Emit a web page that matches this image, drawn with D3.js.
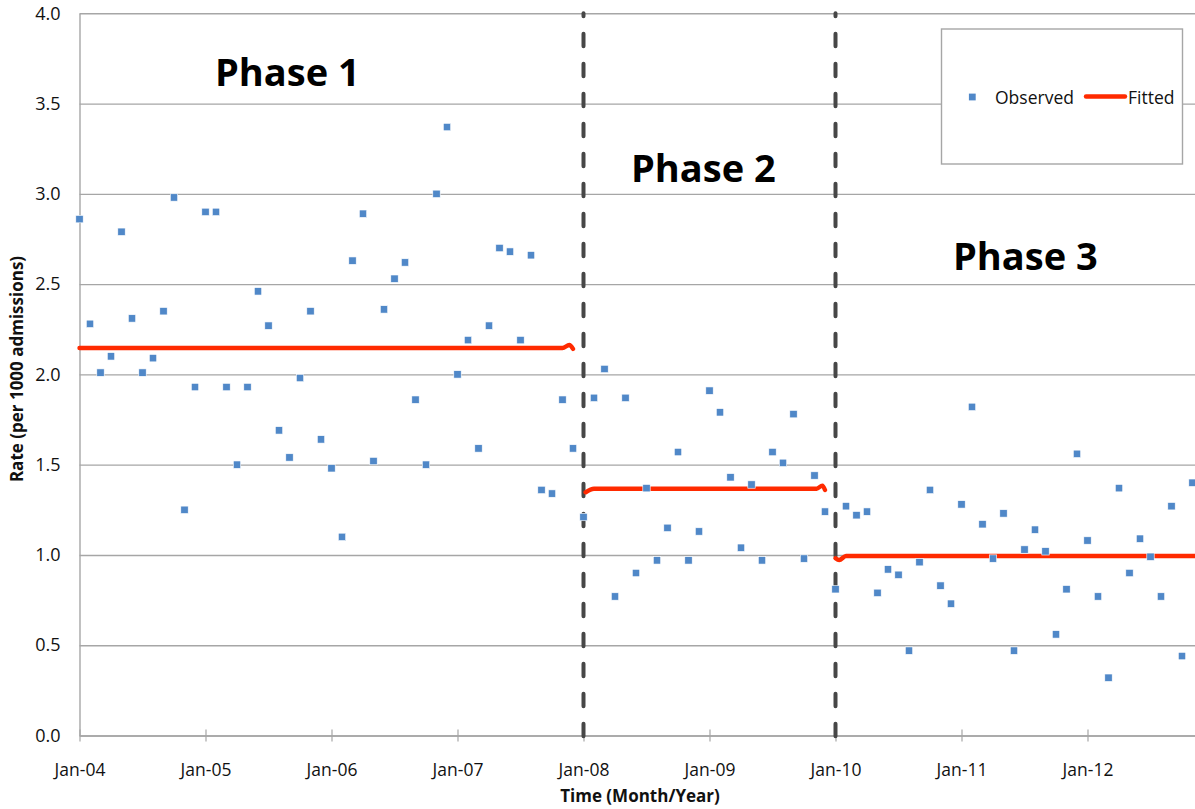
<!DOCTYPE html>
<html>
<head>
<meta charset="utf-8">
<script src="https://cdn.jsdelivr.net/npm/d3@7"></script>
<style>
  html, body { margin: 0; padding: 0; overflow: hidden; background: #fff; }
  svg { display: block; font-family: "Open Sans", "Noto Sans", sans-serif; }
</style>
</head>
<body>
<svg id="chart" width="1195" height="809"></svg>
<script>
// ---------- data ----------
// month index 0 = Jan-04
const observed = [
  2.86, 2.28, 2.01, 2.10, 2.79, 2.31, 2.01, 2.09, 2.35, 2.98, 1.25, 1.93,
  2.90, 2.90, 1.93, 1.50, 1.93, 2.46, 2.27, 1.69, 1.54, 1.98, 2.35, 1.64,
  1.48, 1.10, 2.63, 2.89, 1.52, 2.36, 2.53, 2.62, 1.86, 1.50, 3.00, 3.37,
  2.00, 2.19, 1.59, 2.27, 2.70, 2.68, 2.19, 2.66, 1.36, 1.34, 1.86, 1.59,
  1.21, 1.87, 2.03, 0.77, 1.87, 0.90, 1.37, 0.97, 1.15, 1.57, 0.97, 1.13,
  1.91, 1.79, 1.43, 1.04, 1.39, 0.97, 1.57, 1.51, 1.78, 0.98, 1.44, 1.24,
  0.81, 1.27, 1.22, 1.24, 0.79, 0.92, 0.89, 0.47, 0.96, 1.36, 0.83, 0.73,
  1.28, 1.82, 1.17, 0.98, 1.23, 0.47, 1.03, 1.14, 1.02, 0.56, 0.81, 1.56,
  1.08, 0.77, 0.32, 1.37, 0.90, 1.09, 0.99, 0.77, 1.27, 0.44, 1.40
];
// fitted segments: [month, rate]
const fittedPhase1 = [[0, 2.146], [46, 2.146], [46.65, 2.163], [47, 2.141]];
const fittedPhase2 = [[48.2, 1.347], [49, 1.367], [70.2, 1.367], [70.75, 1.384], [71, 1.360]];
const fittedPhase3 = [[72, 0.982], [72.35, 0.972], [73, 0.994], [108, 0.994]];
const phaseBreaks = [48, 72];
const phaseNames = ["Phase 1", "Phase 2", "Phase 3"];
const xTickMonths = [0, 12, 24, 36, 48, 60, 72, 84, 96];
const xTickLabels = ["Jan-04", "Jan-05", "Jan-06", "Jan-07", "Jan-08", "Jan-09", "Jan-10", "Jan-11", "Jan-12"];
const yTicks = [0, 0.5, 1.0, 1.5, 2.0, 2.5, 3.0, 3.5, 4.0];
const legendLabels = ["Observed", "Fitted"];

// ---------- layout ----------
const svg = d3.select("#chart");
const x0 = 79.5, pxPerMonth = 10.5;
const x = d3.scaleLinear().domain([0, 108]).range([x0, x0 + 108 * pxPerMonth]);
const y = d3.scaleLinear().domain([0, 4]).range([735.5, 13.3]);
const gridColor = "#a6a6a6";
const blue = "#5088c8";
const red = "#ff2a00";

// y axis with gridlines
const yAxis = svg.append("g")
  .attr("transform", `translate(${x0},0)`)
  .call(d3.axisLeft(y).tickValues(yTicks).tickFormat(d3.format(".1f"))
    .tickSize(-(x.range()[1] - x0)).tickSizeOuter(0).tickPadding(19));
yAxis.select(".domain").attr("stroke", gridColor).attr("stroke-width", 1.4);
yAxis.selectAll(".tick line").attr("stroke", gridColor).attr("stroke-width", 1.4);
yAxis.selectAll(".tick text").attr("fill", "#111").style("font-size", "18px")
  .style("font-family", "'Open Sans', sans-serif");

// x axis
const xAxis = svg.append("g")
  .attr("transform", `translate(0,${y(0)})`)
  .call(d3.axisBottom(x).tickValues(xTickMonths)
    .tickFormat((d, i) => xTickLabels[i]).tickSize(6).tickSizeOuter(0));
xAxis.select(".domain").attr("stroke", gridColor).attr("stroke-width", 1.4);
xAxis.selectAll(".tick line").attr("stroke", gridColor).attr("stroke-width", 1.2).attr("y1", -6).attr("y2", 6);
xAxis.selectAll(".tick text").attr("fill", "#111").attr("y", 40.5).attr("dy", null)
  .style("font-size", "17.5px").style("font-family", "'Open Sans', sans-serif");

// phase break dashed lines
svg.append("g").selectAll("line").data(phaseBreaks).join("line")
  .attr("x1", d => x(d)).attr("x2", d => x(d))
  .attr("y1", y(0) + 0.8).attr("y2", y(4))
  .attr("stroke", "#474747").attr("stroke-width", 4)
  .attr("stroke-linecap", "round").attr("stroke-dasharray", "12.6,17.4");

// fitted lines
const line = d3.line().x(d => x(d[0])).y(d => y(d[1])).curve(d3.curveMonotoneX);
svg.append("g").selectAll("path").data([fittedPhase1, fittedPhase2, fittedPhase3]).join("path")
  .attr("d", line).attr("fill", "none").attr("stroke", red)
  .attr("stroke-width", 4.4).attr("stroke-linecap", "round").attr("stroke-linejoin", "round");

// observed points
const ms = 7.4;
svg.append("g").selectAll("rect").data(observed).join("rect")
  .attr("x", (d, i) => x(i) - ms / 2).attr("y", d => y(d) - ms / 2)
  .attr("width", ms).attr("height", ms)
  .attr("fill", blue).attr("stroke", "#ffffff").attr("stroke-width", 0.6);

// phase labels
const phasePos = [[215, 86], [631, 182], [953, 270]];
svg.append("g").selectAll("text").data(phaseNames).join("text")
  .attr("x", (d, i) => phasePos[i][0]).attr("y", (d, i) => phasePos[i][1])
  .text(d => d).attr("fill", "#000")
  .style("font-size", "38px").style("font-weight", "bold");

// axis titles
svg.append("text").attr("x", 640).attr("y", 802).attr("text-anchor", "middle")
  .style("font-size", "17px").style("font-weight", "bold").attr("fill", "#111")
  .text("Time (Month/Year)");
svg.append("text").attr("transform", "translate(23,369) rotate(-90)").attr("text-anchor", "middle")
  .style("font-size", "17px").style("font-weight", "bold").attr("fill", "#111")
  .text("Rate (per 1000 admissions)");

// legend
const lg = svg.append("g");
lg.append("rect").attr("x", 941.5).attr("y", 29).attr("width", 241).attr("height", 135)
  .attr("fill", "#fff").attr("stroke", gridColor).attr("stroke-width", 1.4);
lg.append("rect").attr("x", 972.3 - 3.4).attr("y", 97 - 3.4).attr("width", 6.8).attr("height", 6.8).attr("fill", blue);
lg.append("text").attr("x", 995).attr("y", 104).style("font-size", "17.5px").attr("fill", "#111").text(legendLabels[0]);
lg.append("line").attr("x1", 1086).attr("x2", 1125).attr("y1", 96.5).attr("y2", 96.5)
  .attr("stroke", red).attr("stroke-width", 4.4).attr("stroke-linecap", "round");
lg.append("text").attr("x", 1128).attr("y", 104).style("font-size", "17.5px").attr("fill", "#111").text(legendLabels[1]);
</script>
</body>
</html>
